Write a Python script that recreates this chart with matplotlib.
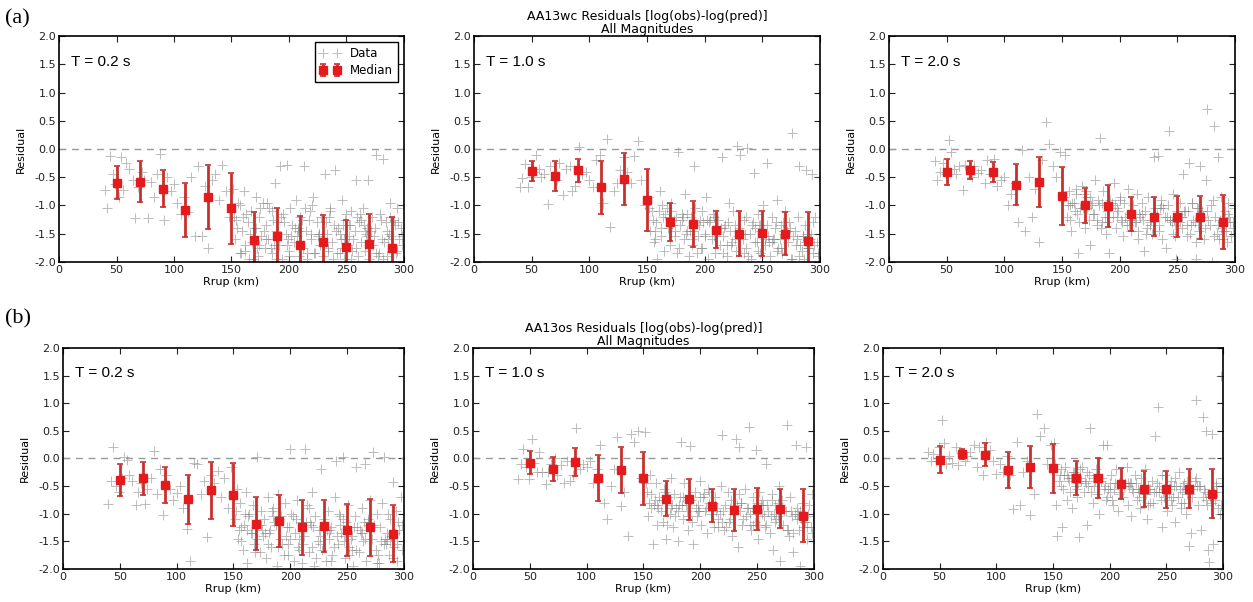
import numpy as np
import matplotlib
matplotlib.use('Agg')
import matplotlib.pyplot as plt

# distance bins (km) where medians were computed
bins = [50, 70, 90, 110, 130, 150, 170, 190, 210, 230, 250, 270, 290]

# medians and std per panel
med_wc_02 = [-0.60, -0.58, -0.70, -1.08, -0.85, -1.05, -1.62, -1.54, -1.70, -1.65, -1.74, -1.68, -1.75]
std_wc_02 = [0.29, 0.36, 0.32, 0.48, 0.56, 0.63, 0.50, 0.49, 0.52, 0.48, 0.49, 0.53, 0.54]
med_wc_10 = [-0.39, -0.48, -0.38, -0.68, -0.53, -0.91, -1.29, -1.33, -1.43, -1.50, -1.49, -1.50, -1.63]
std_wc_10 = [0.17, 0.27, 0.20, 0.47, 0.46, 0.55, 0.34, 0.41, 0.33, 0.40, 0.40, 0.38, 0.52]
med_wc_20 = [-0.40, -0.37, -0.41, -0.63, -0.59, -0.83, -1.00, -1.01, -1.15, -1.20, -1.20, -1.21, -1.29]
std_wc_20 = [0.23, 0.16, 0.18, 0.37, 0.44, 0.51, 0.31, 0.38, 0.30, 0.35, 0.36, 0.38, 0.48]
med_os_02 = [-0.39, -0.36, -0.48, -0.74, -0.58, -0.66, -1.18, -1.13, -1.25, -1.22, -1.30, -1.25, -1.36]
std_os_02 = [0.29, 0.30, 0.32, 0.44, 0.52, 0.57, 0.48, 0.47, 0.50, 0.47, 0.47, 0.52, 0.51]
med_os_10 = [-0.08, -0.19, -0.06, -0.35, -0.21, -0.36, -0.73, -0.74, -0.86, -0.94, -0.92, -0.91, -1.04]
std_os_10 = [0.21, 0.21, 0.25, 0.42, 0.42, 0.48, 0.32, 0.37, 0.30, 0.38, 0.38, 0.35, 0.48]
med_os_20 = [-0.02, 0.08, 0.07, -0.21, -0.16, -0.18, -0.35, -0.36, -0.46, -0.55, -0.56, -0.55, -0.64]
std_os_20 = [0.25, 0.09, 0.21, 0.33, 0.38, 0.44, 0.31, 0.36, 0.28, 0.33, 0.33, 0.35, 0.44]

# record distances (same records in every panel)
rrup = [40, 42, 44, 47, 49, 52, 54, 56, 58, 61,
        64, 66, 69, 72, 74, 77, 80, 83, 85, 88,
        91, 94, 97, 100, 103, 106, 109, 112, 115, 118,
        121, 124, 127, 130, 133, 136, 139, 142, 145, 148,
        151, 153, 154, 156, 158, 159, 161, 162, 164, 165,
        167, 168, 170, 171, 173, 174, 176, 177, 179, 180,
        182, 183, 185, 186, 188, 189, 191, 192, 194, 195,
        197, 198, 200, 201, 203, 204, 206, 207, 209, 210,
        212, 213, 215, 216, 218, 219, 221, 222, 224, 225,
        227, 228, 230, 231, 233, 234, 236, 237, 239, 240,
        242, 243, 245, 246, 248, 249, 251, 252, 254, 255,
        257, 258, 260, 261, 263, 264, 266, 267, 269, 270,
        272, 273, 275, 276, 278, 279, 281, 282, 284, 285,
        287, 288, 290, 291, 293, 294, 296, 297, 299, 298,
        155, 163, 172, 181, 190, 199, 208, 217, 226, 235,
        244, 253, 262, 271, 280, 289, 295, 160, 175, 205,
        220, 250, 265, 285, 185, 232, 274, 241, 211, 256,
        166, 187, 196, 214, 229, 247, 259, 268, 283, 292,
        152, 157, 169, 178, 184, 193, 202, 223, 238, 248,
        258, 263, 277, 286, 294, 157, 171, 189, 198, 216,
        226, 236, 246, 254, 266, 276, 288, 298, 162, 180,
        200, 219, 234, 252, 268, 282, 290, 174, 208, 244]

res_wc_02 = [-0.72, -1.05, -0.12, -0.45, -0.62, -0.85, -0.15, -0.72, -0.25, -0.35,
             -0.55, -1.23, -0.68, -0.40, -0.55, -1.23, -0.58, -0.85, -0.45, -0.09,
             -1.25, -0.50, -0.75, -0.62, -0.95, -1.15, -0.85, -1.12, -0.50, -1.55,
             -0.30, -1.55, -0.65, -1.75, -0.55, -0.45, -0.90, -0.28, -0.75, -1.20,
             -0.70, -1.60, -1.25, -0.95, -1.85, -1.45, -0.75, -1.70, -1.30, -1.95,
             -1.10, -1.65, -1.40, -0.85, -1.90, -1.20, -1.55, -0.95, -1.75, -1.35,
             -1.60, -1.05, -1.85, -1.25, -0.60, -1.45, -1.70, -0.30, -1.95, -1.15,
             -1.50, -0.28, -1.80, -1.05, -1.35, -1.65, -0.90, -1.55, -1.90, -1.20,
             -1.75, -0.30, -1.45, -1.95, -1.10, -1.60, -0.85, -1.85, -1.30, -1.55,
             -1.70, -1.20, -1.90, -0.45, -1.50, -1.80, -1.05, -1.65, -1.35, -0.38,
             -1.85, -1.40, -1.60, -0.90, -1.95, -1.25, -1.70, -1.55, -1.10, -1.80,
             -1.45, -0.55, -1.90, -1.30, -1.65, -1.05, -1.80, -1.50, -0.55, -1.95,
             -1.20, -1.70, -1.40, -0.10, -1.85, -1.15, -1.60, -0.18, -1.30, -1.90,
             -1.50, -0.95, -1.75, -1.25, -1.85, -1.05, -1.60, -1.40, -1.00, -1.70,
             -1.40, -1.15, -1.75, -0.95, -1.30, -1.60, -1.45, -1.25, -1.50, -1.20,
             -1.50, -1.35, -1.15, -1.45, -1.25, -1.55, -1.30, -1.20, -1.05, -1.40,
             -1.00, -1.15, -1.35, -1.45, -1.10, -1.30, -1.55, -1.45, -1.25, -1.60,
             -1.50, -1.70, -1.30, -1.05, -1.60, -1.35, -1.20, -1.40, -1.65, -1.35,
             -1.20, -1.85, -1.95, -1.45, -1.75, -1.20, -1.55, -1.85, -1.95, -1.60,
             -1.75, -1.25, -1.90, -1.60, -1.80, -1.00, -1.40, -1.95, -1.70, -1.85,
             -1.50, -1.10, -1.75, -1.95, -1.45, -1.85, -1.20, -1.55, -1.80, -1.60,
             -1.90, -1.50, -1.75, -1.35, -1.55, -1.95, -1.80, -1.70, -1.40, -1.85]

res_wc_10 = [-0.68, -0.52, -0.27, -0.68, -0.50, -0.40, -0.10, -0.35, -0.50, -0.45,
             -0.97, -0.30, -0.55, -0.55, -0.25, -0.82, -0.35, -0.30, -0.75, -0.65,
             0.03, -0.45, -0.40, -0.55, -0.68, -0.20, -0.10, -0.95, 0.18, -1.38,
             -0.75, -0.60, -0.38, -0.15, -0.40, -0.60, -0.12, 0.15, -0.55, -1.00,
             -0.85, -1.45, -1.10, -1.65, -1.30, -1.95, -0.75, -1.55, -1.20, -1.80,
             -1.05, -1.40, -1.70, -0.95, -1.25, -1.55, -1.85, -0.05, -1.35, -1.15,
             -1.60, -0.80, -1.45, -1.90, -1.20, -1.70, -0.30, -1.05, -1.55, -1.35,
             -1.75, -1.10, -1.50, -0.85, -1.95, -1.30, -1.60, -1.15, -1.85, -1.40,
             -1.25, -1.70, -0.15, -1.55, -1.35, -1.90, -0.95, -1.45, -1.65, -1.10,
             -1.80, 0.05, -1.40, -0.10, -1.60, -1.25, -1.75, 0.02, -1.50, -1.95,
             -1.30, -0.42, -1.65, -1.15, -1.85, -1.45, -1.00, -1.70, -0.25, -1.55,
             -1.90, -1.20, -1.60, -1.40, -0.90, -1.75, -1.35, -1.85, -1.50, -1.10,
             -1.65, -1.30, -1.95, 0.28, -1.45, -1.70, -1.20, -0.30, -1.80, -1.55,
             -1.35, -0.38, -1.75, -1.60, -0.45, -1.85, -1.20, -1.65, -0.50, -1.90,
             -1.25, -1.00, -1.35, -1.20, -1.45, -1.30, -1.55, -1.40, -1.35, -1.50,
             -1.40, -1.55, -1.30, -1.45, -1.60, -1.50, -1.70, -1.10, -1.20, -1.25,
             -1.30, -1.45, -1.60, -1.55, -1.15, -1.50, -1.40, -1.35, -1.50, -1.65,
             -1.15, -1.45, -1.25, -1.40, -1.55, -1.35, -1.60, -1.45, -1.70, -1.50,
             -1.05, -1.60, -1.20, -1.75, -1.50, -1.85, -1.25, -1.70, -1.90, -1.35,
             -1.65, -1.80, -1.55, -1.95, -1.30, -1.45, -1.10, -1.60, -1.75, -1.85,
             -1.60, -1.20, -1.80, -1.35, -1.75, -1.95, -1.65, -1.85, -1.40, -1.25,
             -1.55, -1.70, -1.85, -1.60, -1.30, -1.90, -1.75, -1.45, -1.20, -1.65]

res_wc_20 = [-0.22, -0.55, -0.40, -0.25, -0.45, 0.16, -0.05, -0.35, -0.45, -0.30,
             -0.72, -0.28, -0.32, -0.50, -0.30, -0.42, -0.38, -0.60, -0.20, -0.45,
             -0.18, -0.65, -0.55, -0.50, -1.00, -0.80, -0.60, -1.30, -0.02, -1.45,
             -0.50, -1.20, -0.70, -1.65, -0.20, 0.47, 0.08, -0.30, -0.50, -0.05,
             -0.90, -0.10, -1.20, -0.75, -1.45, -0.95, -1.10, -0.80, -1.85, -1.30,
             -0.65, -1.05, -1.40, -0.85, -1.25, -1.70, -0.95, -1.15, -0.55, -1.35,
             -1.00, 0.20, -1.30, -0.75, -1.50, -1.10, -1.85, -0.90, -1.20, -0.60,
             -1.40, -1.05, -0.85, -1.25, -1.55, -0.95, -1.35, -0.70, -1.15, -1.45,
             -1.00, -1.30, -0.80, -1.60, -1.20, -0.95, -1.80, -1.10, -1.40, -0.85,
             -1.25, -1.50, -0.15, -1.05, -0.12, -1.35, -0.90, -1.60, -1.20, -1.75,
             -1.00, 0.32, -1.30, -0.80, -1.55, -1.95, -1.15, -0.95, -1.40, -0.45,
             -1.10, -1.35, -0.25, -1.50, -0.95, -1.25, -1.95, -1.05, -1.45, -0.30,
             -1.20, -1.60, -0.55, 0.70, -1.35, -1.00, -0.90, 0.40, -1.50, -0.15,
             -1.25, -0.85, -1.45, -1.10, -1.65, -0.95, -1.30, -1.55, -1.05, -1.40,
             -1.00, -1.15, -1.05, -0.90, -1.20, -1.10, -1.25, -1.15, -1.30, -1.05,
             -1.25, -1.20, -1.35, -1.10, -2.00, -1.30, -1.20, -0.95, -1.00, -1.20,
             -1.25, -1.10, -1.30, -1.35, -0.95, -1.15, -1.40, -1.20, -1.25, -1.10,
             -1.05, -1.20, -1.00, -1.30, -1.15, -1.25, -1.10, -1.35, -1.20, -1.45,
             -0.85, -1.25, -0.80, -1.15, -1.40, -0.95, -1.30, -1.50, -1.05, -1.35,
             -1.55, -0.95, -1.25, -1.60, -1.15, -1.00, -0.75, -1.30, -1.20, -1.45,
             -1.35, -1.00, -1.50, -1.20, -1.65, -1.10, -1.40, -1.30, -0.70, -1.25,
             -0.90, -1.15, -1.45, -1.30, -1.05, -1.55, -1.60, -0.85, -1.35, -1.25]

res_os_02 = [-0.82, -0.40, 0.20, -0.50, -0.60, -0.35, 0.03, -0.02, -0.30, -0.40,
             -0.85, -0.60, -0.45, -0.82, -0.55, -0.35, 0.13, -0.65, -0.20, -1.02,
             -0.30, -0.55, -0.75, -0.62, -0.50, -0.90, -1.27, -1.85, -0.08, -0.10,
             -0.65, -0.40, -1.42, -0.30, -0.45, -0.22, -0.70, -0.35, -0.90, -0.15,
             -1.10, -0.55, -1.45, -0.80, -1.65, -1.20, -0.60, -1.90, -1.00, -1.35,
             -0.85, -1.55, -1.25, 0.03, -1.70, -0.95, -1.40, -1.10, -1.80, -0.70,
             -1.30, -1.60, -0.90, -1.15, -1.95, -0.65, -1.45, -1.05, -1.75, -0.80,
             -1.25, -1.55, 0.17, -1.00, -1.85, -1.35, -0.75, -1.60, -1.15, -1.90,
             -1.40, 0.17, -0.85, -1.70, -1.20, -0.60, -1.95, -1.05, -1.50, -1.30,
             -0.20, -1.65, -1.10, -1.85, -0.95, -1.45, -1.25, -1.75, -0.70, -0.05,
             -1.55, -1.00, -1.35, 0.02, -1.80, -1.15, -0.85, -1.60, -1.40, -1.95,
             -1.05, -0.15, -1.70, -1.30, -0.90, -1.50, -0.10, -1.85, -1.20, -0.75,
             -1.45, 0.12, -1.65, -1.00, -1.90, -1.25, -0.80, 0.02, -1.55, -1.35,
             -1.75, -1.10, -0.42, -1.60, -0.95, -1.85, -1.30, -0.70, -1.50, -1.20,
             -1.30, -1.05, -1.20, -1.35, -1.10, -1.25, -1.45, -1.15, -1.40, -1.30,
             -1.20, -1.45, -1.35, -1.25, -1.50, -1.40, -1.15, -1.00, -1.30, -1.10,
             -1.25, -1.35, -1.15, -1.45, -1.05, -1.30, -1.20, -1.40, -1.55, -1.25,
             -1.35, -1.20, -1.40, -1.15, -1.30, -1.50, -1.25, -1.10, -1.45, -1.35,
             -0.95, -1.50, -1.70, -1.35, -0.95, -1.55, -1.05, -1.80, -1.60, -1.40,
             -1.65, -1.35, -1.75, -1.00, -1.55, -1.25, -1.45, -1.60, -1.75, -0.90,
             -1.55, -1.85, -1.10, -1.65, -1.45, -1.90, -1.50, -1.65, -1.30, -1.55,
             -1.45, -1.60, -1.35, -1.75, -1.15, -1.55, -1.80, -1.20, -1.65, -1.05]

res_os_10 = [-0.37, -0.10, 0.17, -0.15, -0.38, 0.35, -0.08, -0.25, 0.12, -0.25,
             -0.47, -0.25, -0.10, 0.00, -0.30, -0.12, -0.45, -0.05, -0.40, -0.30,
             0.55, -0.20, -0.10, -0.15, -0.05, -0.45, -0.20, 0.25, -0.80, -1.10,
             -0.50, -0.20, 0.38, -0.87, -0.60, -1.40, 0.45, 0.30, 0.50, -0.35,
             0.47, -0.60, -1.05, -0.30, -1.55, -0.85, -0.45, -1.20, -0.70, -0.95,
             -1.15, -0.55, -1.45, -0.80, -1.00, -0.35, -1.25, -0.65, -0.90, -1.50,
             -0.70, 0.30, -1.10, -0.45, -0.95, -1.30, 0.23, -0.75, -1.55, -0.60,
             -1.05, -0.85, -0.40, -1.20, -0.65, -0.95, -1.35, -0.55, -1.00, -0.80,
             -1.25, -0.70, -0.90, -1.10, -0.50, 0.42, -1.30, -0.85, -0.60, -1.15,
             -0.75, -1.40, -1.00, 0.35, -1.60, 0.20, -0.80, -1.20, -0.55, -1.05,
             -0.90, 0.57, -1.30, -0.70, -1.15, 0.15, -1.45, -0.60, -1.00, -0.85,
             -1.25, -0.10, -0.95, -1.35, -0.65, -1.65, -0.85, -1.10, -0.50, -1.85,
             -0.75, -1.20, -0.95, 0.60, -1.40, -0.70, -1.05, -1.70, 0.25, -0.90,
             -1.30, -1.95, -0.80, -1.15, 0.20, -1.45, -0.85, -1.25, -1.05, -0.65,
             -0.80, -0.90, -0.70, -0.85, -0.75, -0.95, -0.80, -1.00, -0.90, -0.95,
             -1.00, -0.85, -1.05, -0.90, -0.95, -1.10, -1.00, -0.75, -0.85, -0.90,
             -0.95, -0.80, -1.00, -1.10, -0.70, -0.85, -0.95, -0.90, -0.80, -1.05,
             -0.75, -0.85, -0.90, -0.95, -1.00, -0.90, -0.85, -1.05, -1.00, -1.15,
             -0.45, -0.90, -0.60, -1.05, -0.85, -1.15, -0.70, -1.25, -1.10, -0.95,
             -1.20, -0.75, -1.30, -1.00, -1.25, -0.65, -1.20, -1.05, -0.95, -1.25,
             -1.10, -0.80, -1.20, -0.75, -1.15, -1.30, -0.95, -1.35, -0.85, -0.95,
             -0.70, -1.15, -0.65, -1.20, -0.80, -1.35, -1.25, -0.90, -0.60, -1.20]

res_os_20 = [0.12, -0.05, 0.08, -0.05, 0.20, 0.70, 0.28, -0.10, 0.05, -0.08,
             0.20, -0.12, 0.10, -0.05, 0.05, 0.12, 0.25, -0.15, 0.20, -0.30,
             0.30, 0.15, -0.05, -0.28, -0.10, -0.25, 0.05, -0.30, -0.92, 0.30,
             -0.85, -0.25, -0.05, -1.02, -0.65, 0.80, 0.40, 0.55, -0.10, 0.25,
             0.28, -0.85, -1.40, -0.30, -1.25, -0.55, -0.15, -0.75, -0.40, -0.60,
             -0.90, -0.25, -0.50, -0.70, -1.42, -0.35, -0.15, -0.60, -0.45, -1.20,
             -0.30, 0.55, -0.80, -0.50, -0.20, -0.65, -1.00, -0.40, 0.25, -0.55,
             -0.75, 0.25, -0.45, -0.30, -0.85, -0.55, -0.20, -0.95, -0.60, -0.40,
             -0.70, -0.50, -0.15, -0.85, -0.45, -1.05, -0.60, -0.30, -0.75, -0.55,
             -0.90, -0.35, -0.65, -0.20, -1.10, -0.50, -0.80, -0.40, -0.60, 0.40,
             -0.45, 0.93, -0.75, -1.25, -0.55, -0.30, -0.95, -0.65, -0.40, -0.85,
             -0.50, -1.15, -0.70, -0.25, -0.90, -0.60, -0.45, -1.00, -0.55, -1.58,
             -1.35, -0.70, -0.40, 1.05, -0.85, -0.50, -1.30, 0.75, -0.60, 0.50,
             -1.65, -1.88, 0.45, -1.55, -0.75, -0.50, -0.90, -1.00, -0.35, 1.49,
             -0.40, -0.35, -0.45, -0.50, -0.40, -0.55, -0.45, -0.50, -0.60, -0.55,
             -0.60, -0.50, -0.55, -0.65, -0.50, -0.70, -0.60, -0.30, -0.40, -0.45,
             -0.55, -0.60, -0.50, -0.75, -0.35, -0.65, -0.55, -0.60, -0.45, -0.70,
             -0.35, -0.40, -0.50, -0.45, -0.55, -0.60, -0.50, -0.65, -0.55, -0.60,
             -0.10, -0.50, -0.25, -0.40, -0.60, -0.35, -0.75, -0.45, -0.80, -0.70,
             -0.35, -0.80, -0.50, -0.85, -0.45, -0.20, -0.55, -0.30, -0.70, -0.45,
             -0.70, -0.55, -0.30, -0.75, -0.80, -0.35, -0.65, -0.85, -0.30, -0.25,
             -0.60, -0.45, -0.85, -0.55, -0.40, -0.70, -0.80, -0.20, -0.65, -0.50]

periods = ['T = 0.2 s', 'T = 1.0 s', 'T = 2.0 s']

plt.rcParams['font.family'] = 'DejaVu Sans'

fig = plt.figure(figsize=(12.53, 6.02), dpi=100)

# axes rectangles (left, bottom, width, height)
rects_a = [[0.0471, 0.565, 0.2753, 0.375], [0.3783, 0.565, 0.2761, 0.375], [0.7095, 0.565, 0.2761, 0.375]]
rects_b = [[0.0503, 0.055, 0.2721, 0.367], [0.3775, 0.055, 0.2721, 0.367], [0.7047, 0.055, 0.2713, 0.367]]

rows = [
    (rects_a, [(res_wc_02, med_wc_02, std_wc_02), (res_wc_10, med_wc_10, std_wc_10), (res_wc_20, med_wc_20, std_wc_20)], 'AA13wc'),
    (rects_b, [(res_os_02, med_os_02, std_os_02), (res_os_10, med_os_10, std_os_10), (res_os_20, med_os_20, std_os_20)], 'AA13os'),
]

for rects, panels, model in rows:
    for i, (res, med, sd) in enumerate(panels):
        ax = fig.add_axes(rects[i])
        ax.plot(rrup, res, '+', color='#7a7a7a', alpha=0.5, markersize=7, markeredgewidth=0.7, label='Data')
        ax.axhline(0, color='#999999', linestyle='--', linewidth=1.0, dashes=(5, 4))
        ax.errorbar(bins, med, yerr=sd, fmt='s', color='#e41a1c', ecolor='#c9302c',
                    markersize=6, elinewidth=2.0, capsize=2, capthick=1.2, label='Median')
        ax.set_xlim(0, 300)
        ax.set_ylim(-2, 2)
        ax.set_xticks(np.arange(0, 301, 50))
        ax.set_yticks(np.arange(-2, 2.01, 0.5))
        ax.set_yticklabels(['%.1f' % v for v in np.arange(-2, 2.01, 0.5)])
        ax.tick_params(direction='in', top=True, right=True, length=4, width=0.8,
                       labelsize=8, colors='#222222', pad=2)
        for s in ax.spines.values():
            s.set_linewidth(1.2)
        ax.set_ylabel('Residual', fontsize=8, labelpad=6)
        ax.set_xlabel('Rrup (km)', fontsize=8, labelpad=2)
        ax.text(0.035, 0.885, periods[i], transform=ax.transAxes, fontsize=11,
                family='Liberation Sans', va='center')
        if i == 1:
            ax.set_title(model + ' Residuals [log(obs)-log(pred)]\nAll Magnitudes',
                         fontsize=9, linespacing=1.05, pad=2)
        if i == 0 and model == 'AA13wc':
            ax.legend(loc='upper right', numpoints=2, fontsize=8.5, fancybox=False,
                      edgecolor='black', framealpha=1, borderaxespad=0.5,
                      handlelength=1.8, labelspacing=0.4)

fig.text(0.004, 0.968, '(a)', fontsize=16, family='Liberation Serif', va='center')
fig.text(0.004, 0.47, '(b)', fontsize=16, family='Liberation Serif', va='center')

fig.savefig('out.png', dpi=100)
